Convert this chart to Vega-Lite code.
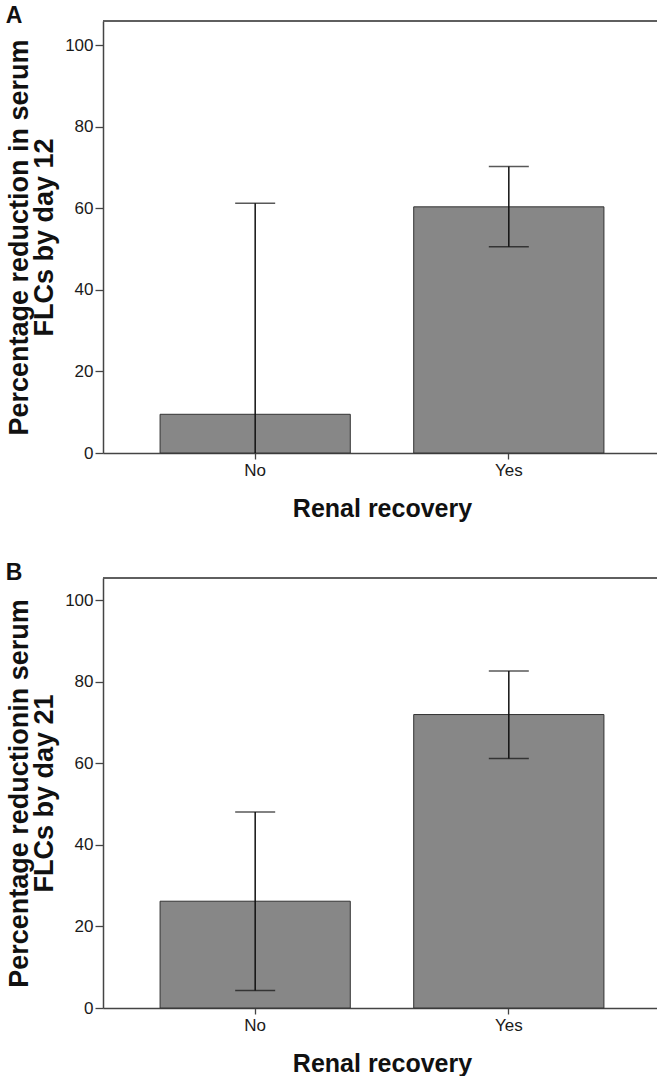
{
  "$schema": "https://vega.github.io/schema/vega-lite/v6.json",
  "background": "white",
  "padding": {"left": 5, "top": 5, "right": 0, "bottom": 0},
  "spacing": 41,
  "config": {
    "view": {"stroke": null},
    "font": "Liberation Sans",
    "axis": {
      "domainColor": "#444444",
      "domainWidth": 1.5,
      "tickColor": "#444444",
      "tickWidth": 1.3,
      "labelColor": "#1a1a1a",
      "labelFontSize": 17,
      "titleColor": "#111111",
      "titleFontSize": 25,
      "titleFontWeight": "bold",
      "grid": false
    },
    "title": {"fontSize": 23, "fontWeight": "bold", "color": "#111111", "anchor": "start", "frame": "bounds", "offset": -8}
  },
  "datasets": {
    "a": [
      {"recovery": "No", "mean": 9.5, "lower": -42, "upper": 61.3},
      {"recovery": "Yes", "mean": 60.4, "lower": 50.6, "upper": 70.3}
    ],
    "b": [
      {"recovery": "No", "mean": 26.2, "lower": 4.3, "upper": 48.1},
      {"recovery": "Yes", "mean": 72.0, "lower": 61.2, "upper": 82.7}
    ]
  },
  "vconcat": [
    {
      "title": {"text": "A"},
      "width": 558,
      "height": 432,
      "data": {"name": "a"},
      "layer": [
        {
          "mark": {"type": "bar", "fill": "#878787", "stroke": "#333333", "strokeWidth": 1},
          "encoding": {
            "x": {
              "field": "recovery", "type": "nominal",
              "scale": {"paddingInner": 0.25, "paddingOuter": 0.225},
              "axis": {"title": "Renal recovery", "labelAngle": 0, "tickSize": 6, "labelPadding": 3, "titlePadding": 18}
            },
            "y": {
              "field": "mean", "type": "quantitative",
              "scale": {"domain": [0, 106], "nice": false},
              "axis": {"values": [0, 20, 40, 60, 80, 100], "tickSize": 8, "labelPadding": 2, "titlePadding": 6, "titleLineHeight": 25, "titleFontSize": 27,
                       "title": ["Percentage reduction in serum", "FLCs by day 12"]}
            }
          }
        },
        {
          "mark": {"type": "rule", "clip": true, "color": "#111111", "strokeWidth": 1.5},
          "encoding": {"x": {"field": "recovery", "type": "nominal"}, "y": {"field": "lower", "type": "quantitative"}, "y2": {"field": "upper"}}
        },
        {
          "mark": {"type": "tick", "clip": true, "size": 40, "thickness": 1.5, "color": "#111111"},
          "encoding": {"x": {"field": "recovery", "type": "nominal"}, "y": {"field": "upper", "type": "quantitative"}}
        },
        {
          "mark": {"type": "tick", "clip": true, "size": 40, "thickness": 1.5, "color": "#111111"},
          "encoding": {"x": {"field": "recovery", "type": "nominal"}, "y": {"field": "lower", "type": "quantitative"}}
        },
        {
          "mark": {"type": "rule", "color": "#555555", "strokeWidth": 1.5},
          "encoding": {"y": {"datum": 106, "type": "quantitative"}}
        }
      ]
    },
    {
      "title": {"text": "B"},
      "width": 558,
      "height": 430,
      "data": {"name": "b"},
      "layer": [
        {
          "mark": {"type": "bar", "fill": "#878787", "stroke": "#333333", "strokeWidth": 1},
          "encoding": {
            "x": {
              "field": "recovery", "type": "nominal",
              "scale": {"paddingInner": 0.25, "paddingOuter": 0.225},
              "axis": {"title": "Renal recovery", "labelAngle": 0, "tickSize": 6, "labelPadding": 3, "titlePadding": 18}
            },
            "y": {
              "field": "mean", "type": "quantitative",
              "scale": {"domain": [0, 105.5], "nice": false},
              "axis": {"values": [0, 20, 40, 60, 80, 100], "tickSize": 8, "labelPadding": 2, "titlePadding": 6, "titleLineHeight": 25, "titleFontSize": 27,
                       "title": ["Percentage reductionin serum", "FLCs by day 21"]}
            }
          }
        },
        {
          "mark": {"type": "rule", "clip": true, "color": "#111111", "strokeWidth": 1.5},
          "encoding": {"x": {"field": "recovery", "type": "nominal"}, "y": {"field": "lower", "type": "quantitative"}, "y2": {"field": "upper"}}
        },
        {
          "mark": {"type": "tick", "clip": true, "size": 40, "thickness": 1.5, "color": "#111111"},
          "encoding": {"x": {"field": "recovery", "type": "nominal"}, "y": {"field": "upper", "type": "quantitative"}}
        },
        {
          "mark": {"type": "tick", "clip": true, "size": 40, "thickness": 1.5, "color": "#111111"},
          "encoding": {"x": {"field": "recovery", "type": "nominal"}, "y": {"field": "lower", "type": "quantitative"}}
        },
        {
          "mark": {"type": "rule", "color": "#555555", "strokeWidth": 1.5},
          "encoding": {"y": {"datum": 105.5, "type": "quantitative"}}
        }
      ]
    }
  ]
}
